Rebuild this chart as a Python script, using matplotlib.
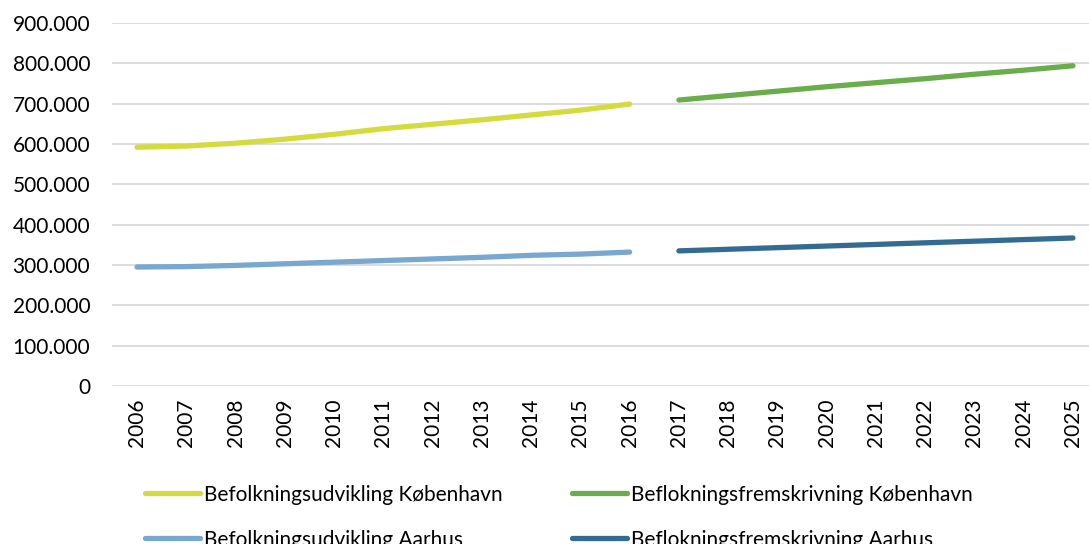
import matplotlib
matplotlib.use("Agg")
import matplotlib.pyplot as plt
from matplotlib.ticker import FuncFormatter
import numpy as np

years = [str(y) for y in range(2006, 2026)]
hist_years = years[:11]
proj_years = years[11:]

kbh_hist = [592000, 595000, 602000, 612000, 624000, 638000, 649000, 660000, 672000, 684000, 699000]
kbh_proj = [709000, 720000, 731000, 742000, 752000, 762000, 773000, 783000, 794000]
aar_hist = [295000, 296000, 299000, 303000, 307000, 311000, 315000, 319000, 324000, 327000, 332000]
aar_proj = [335000, 339000, 343000, 347000, 351000, 355000, 359000, 363000, 367000]

labels = [
    "Befolkningsudvikling København",
    "Beflokningsfremskrivning København",
    "Befolkningsudvikling Aarhus",
    "Beflokningsfremskrivning Aarhus",
]
colors = ["#D3DB3E", "#6AAE4C", "#78A7D0", "#336B93"]

plt.rcParams["font.family"] = ["Lato", "DejaVu Sans"]

fig = plt.figure(figsize=(10.89, 5.44), dpi=100)
ax = fig.add_axes([112.4 / 1089, 1 - 386 / 544, 985.2 / 1089, 363 / 544])

x_all = np.arange(len(years))
x_hist = x_all[:len(hist_years)]
x_proj = x_all[len(hist_years):]

lw = 3.8
l1, = ax.plot(x_hist, kbh_hist, color=colors[0], lw=lw, solid_capstyle="round")
l2, = ax.plot(x_proj, kbh_proj, color=colors[1], lw=lw, solid_capstyle="round")
l3, = ax.plot(x_hist, aar_hist, color=colors[2], lw=lw, solid_capstyle="round")
l4, = ax.plot(x_proj, aar_proj, color=colors[3], lw=lw, solid_capstyle="round")

ax.set_xlim(-0.5, len(years) - 0.5)
ax.set_ylim(0, 900000)
ax.set_yticks(np.arange(0, 900001, 100000))
ax.yaxis.set_major_formatter(FuncFormatter(lambda v, p: f"{int(v):,}".replace(",", ".")))
ax.set_xticks(x_all)
ax.set_xticklabels(years, rotation=90)
ax.grid(axis="y", color="#D9D9D9", lw=1.3)
ax.set_axisbelow(True)
for s in ax.spines.values():
    s.set_visible(False)
ax.tick_params(axis="both", length=0, labelsize=15, colors="#000000")
ax.tick_params(axis="y", pad=16)
ax.tick_params(axis="x", pad=9)

fig.legend(
    [l1, l3, l2, l4],
    [labels[0], labels[2], labels[1], labels[3]],
    ncol=2,
    loc="upper left",
    bbox_to_anchor=(126 / 1089, 1 - 466 / 544),
    frameon=False,
    fontsize=15,
    handlelength=2.65,
    handletextpad=0.2,
    columnspacing=3.3,
    labelspacing=1.2,
)

fig.savefig("out.png", dpi=100)
